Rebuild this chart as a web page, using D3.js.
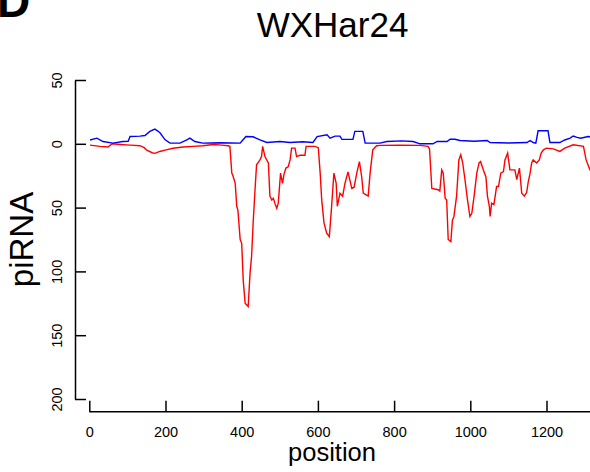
<!DOCTYPE html>
<html>
<head>
<meta charset="utf-8">
<script src="https://cdn.jsdelivr.net/npm/d3@7"></script>
<style>
  body { margin: 0; background: #fff; }
  svg { display: block; font-family: "Liberation Sans", Arial, Helvetica, sans-serif; }
</style>
</head>
<body>
<svg width="590" height="472"></svg>
<script>
// piRNA coverage along WXHar24, sense (blue, up) and antisense (red, down)
var redPos = [2, 28, 49, 60, 81, 107, 133, 144, 151, 165,
  172, 185, 199, 220, 246, 272, 298, 325, 348, 364,
  369, 374, 377, 383, 387, 390, 396, 400, 404, 409,
  417, 422, 426, 430, 435, 439, 448, 452, 455, 461,
  470, 474, 479, 483, 487, 492, 496, 502, 507, 511,
  516, 522, 527, 531, 540, 544, 553, 566, 569, 592,
  601, 606, 610, 616, 623, 630, 636, 642, 648, 651,
  658, 665, 671, 679, 689, 695, 702, 709, 715, 719,
  732, 737, 744, 754, 763, 815, 868, 889, 893, 899,
  916, 920, 925, 929, 934, 938, 942, 949, 953, 957,
  964, 970, 975, 980, 986, 992, 999, 1004, 1010, 1017,
  1023, 1027, 1034, 1041, 1045, 1050, 1052, 1056, 1062, 1069,
  1074, 1080, 1087, 1091, 1098, 1104, 1117, 1122, 1129, 1135,
  1142, 1148, 1152, 1157, 1161, 1165, 1174, 1181, 1186, 1192,
  1200, 1218, 1235, 1248, 1270, 1297, 1304, 1314, 1327];
var redVal = [-1, -2, -2.5, 0, -0.5, -1, -1.5, -3, -5, -7,
  -7.5, -6, -5, -3.5, -2.5, -2, -1.5, -0.5, -1, -1.5,
  -2, -23, -25, -31, -49, -52, -75, -78, -107, -125,
  -127.5, -101, -88, -62, -36, -16.5, -12.6, -10, -2, -10,
  -15, -41, -44, -42.7, -46.5, -50.5, -46.5, -23, -31, -24,
  -19, -18, -12.6, -3.4, -3.4, -10, -9, -9, -2, -2,
  -3, -23, -44, -62, -70, -72.7, -49, -23, -31, -49,
  -38.7, -41, -31, -22, -35, -34, -23, -13.9, -26, -38.7,
  -41, -23, -4.7, -1.5, -1.2, -1, -1.2, -2, -4, -35,
  -36, -37, -20.4, -23, -42.6, -44, -75, -76.7, -60, -57,
  -41, -12.6, -8.6, -15, -28, -42.6, -57, -54.5, -41, -23,
  -15, -13.9, -20.4, -26, -41, -49, -57, -46.5, -47.6, -33.5,
  -33.5, -23, -21.7, -12.6, -7.3, -20.4, -20.4, -28, -19, -38.7,
  -41, -38, -30, -23, -15, -12.6, -15, -12.6, -7.3, -4.7,
  -3.4, -4, -6, -3.4, -0.8, -2, -12.6, -20.4, -25];

var bluePos = [2, 20, 36, 62, 88, 102, 107, 133, 146, 159,
  172, 180, 186, 199, 212, 238, 256, 264, 277, 298,
  343, 396, 403, 411, 430, 448, 466, 500, 527, 560, 587, 598,
  624, 632, 645, 658, 663, 692, 697, 718, 724, 763,
  781, 820, 850, 868, 902, 913, 939, 947, 960, 973, 1010, 1044,
  1052, 1100, 1149, 1157, 1165, 1172, 1178, 1204, 1209, 1235, 1248,
  1262, 1270, 1280, 1290, 1309, 1330];
var blueVal = [3, 4.4, 1.8, 0.5, 1.8, 2, 5.7, 6, 6.5, 9.7,
  11.5, 10, 8.4, 3.1, 0.5, 0.5, 3, 4.4, 1.8, 0.5,
  0.8, 0.5, 3, 5.7, 5.5, 3, 1, 1.8, 1, 1.6, 1, 5.7,
  7, 4.4, 6, 6, 3.5, 3.5, 9.7, 9.7, 0.5, 0.5,
  1.8, 2.3, 1.8, 0, 0, 1.8, 1.8, 3.6, 3.6, 2.6, 2, 2.6,
  1, 0.6, 1, 2.6, 1, 0.5, 10.2, 10.2, 1, 1, 3,
  4.4, 6.1, 5, 4.4, 5.7, 5];

var xTicks = [0, 200, 400, 600, 800, 1000, 1200];
var yTicks = [50, 0, -50, -100, -150, -200];

var svg = d3.select("svg");

var x = d3.scaleLinear().domain([0, 1200]).range([89.3, 546.5]);
var y = d3.scaleLinear().domain([50, -200]).range([80, 399]);

// panel letter, cut at the top edge
svg.append("text")
    .attr("x", -3)
    .attr("y", 17)
    .attr("font-size", 46)
    .attr("font-weight", "bold")
    .text("D");

svg.append("text")
    .attr("x", 332.5)
    .attr("y", 37.3)
    .attr("text-anchor", "middle")
    .attr("font-size", 35)
    .text("WXHar24");

// x axis: ticks point up into the plot like the R original, line runs on past the edge
var xAxis = svg.append("g")
    .attr("transform", "translate(0,411.7)")
    .call(d3.axisBottom(x).tickValues(xTicks).tickSize(-11).tickSizeOuter(0)
      .tickFormat(d3.format("d")));
xAxis.select(".domain").attr("d", "M" + x(0) + ",0H" + x(1400));
xAxis.selectAll("line, path").attr("stroke", "#000").attr("stroke-width", 1.5);
xAxis.selectAll("text").attr("font-size", 14.5).attr("fill", "#000").attr("font-family", null)
    .attr("dy", null).attr("y", 25.3);

var yAxis = svg.append("g")
    .attr("transform", "translate(75,0)")
    .call(d3.axisLeft(y).tickValues(yTicks).tickSize(-11).tickSizeOuter(0)
      .tickFormat(function(d) { return Math.abs(d); }));
yAxis.selectAll("line, path").attr("stroke", "#000").attr("stroke-width", 1.5);
yAxis.selectAll("text")
    .attr("font-size", 14.5).attr("fill", "#000").attr("font-family", null)
    .attr("x", null).attr("dy", null)
    .attr("text-anchor", "middle")
    .attr("transform", "translate(-13.5,0) rotate(-90)");

var line = d3.line()
    .x(function(d) { return x(d[0]); })
    .y(function(d) { return y(d[1]); });

svg.append("path")
    .datum(d3.zip(redPos, redVal))
    .attr("fill", "none")
    .attr("stroke", "#ff0000")
    .attr("stroke-width", 1.4)
    .attr("d", line);

svg.append("path")
    .datum(d3.zip(bluePos, blueVal))
    .attr("fill", "none")
    .attr("stroke", "#0000ff")
    .attr("stroke-width", 1.4)
    .attr("d", line);

svg.append("text")
    .attr("transform", "translate(33.3,239.5) rotate(-90)")
    .attr("text-anchor", "middle")
    .attr("font-size", 33)
    .text("piRNA");

svg.append("text")
    .attr("x", 332)
    .attr("y", 461)
    .attr("text-anchor", "middle")
    .attr("font-size", 25.5)
    .text("position");
</script>
</body>
</html>
